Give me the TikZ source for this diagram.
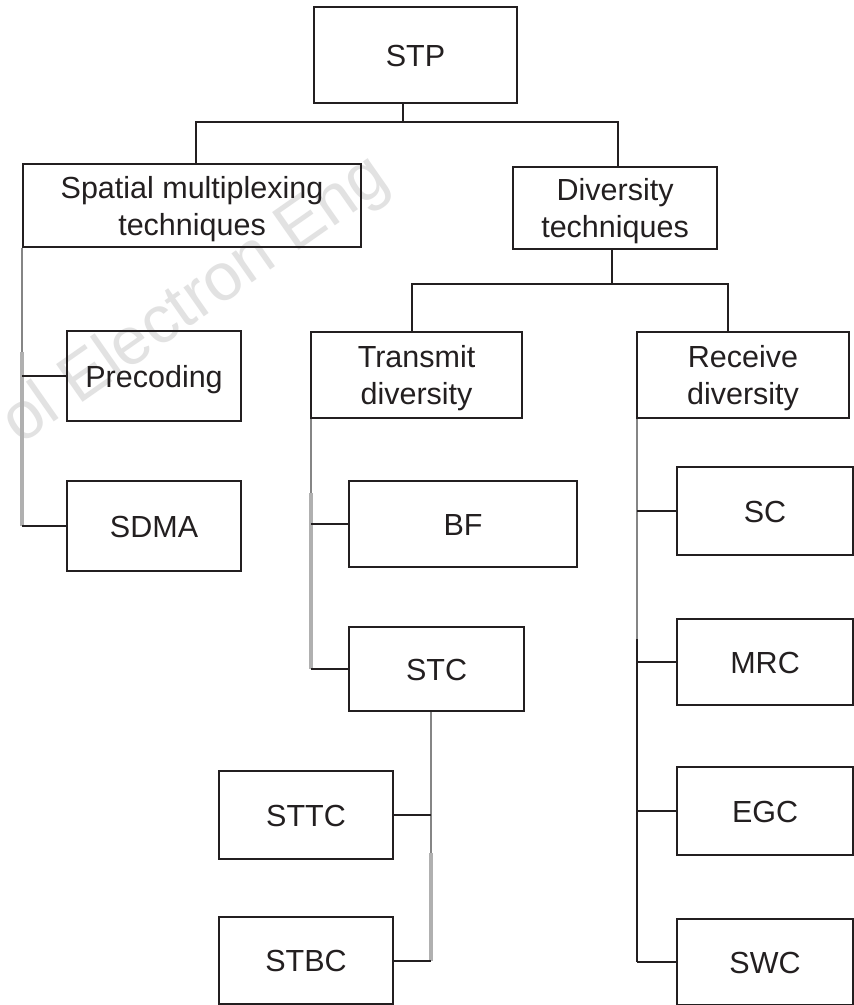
\documentclass[tikz,border=0pt]{standalone}
\usepackage{fontspec}
\setmainfont{Liberation Sans}
\definecolor{ink}{HTML}{231F20}
\definecolor{greyA}{HTML}{858585}
\definecolor{greyB}{HTML}{B0B0B0}
\definecolor{wmark}{HTML}{E2E2E2}
\begin{document}
\begin{tikzpicture}[x=1pt,y=-1pt,
  box/.style={draw=ink, line width=2.1pt, inner sep=0pt, anchor=north west,
    font=\fontsize{30.5}{37}\selectfont, align=center, text depth=0pt, text=ink},
  one/.style={text height=22pt},
  link/.style={draw=ink, line width=2.1pt},
  trunkA/.style={draw=greyA, line width=2.2pt},
  trunkB/.style={draw=greyB, line width=3.2pt}]
\useasboundingbox (0,0) rectangle (854,1005);
\fill[white] (0,0) rectangle (854,1005);
% watermark
\node[anchor=base west, rotate=35, inner sep=0pt, text=wmark,
  font=\fontsize{67}{67}\selectfont] (wm) at (20,446) {ol Electron Eng};
% boxes
\node[box,one,minimum width=203pt,minimum height=96pt] (stp) at (313,6) {STP};
\node[box,minimum width=338pt,minimum height=83pt] (sp) at (22,163) {Spatial multiplexing\\techniques};
\node[box,minimum width=204pt,minimum height=82pt] (dt) at (512,166) {Diversity\\techniques};
\node[box,minimum width=211pt,minimum height=86pt] (td) at (310,331) {Transmit\\diversity};
\node[box,minimum width=212pt,minimum height=86pt] (rd) at (636,331) {Receive\\diversity};
\node[box,one,minimum width=174pt,minimum height=90pt] (pre) at (66,330) {Precoding};
\node[box,one,minimum width=174pt,minimum height=90pt] (sdma) at (66,480) {SDMA};
\node[box,one,minimum width=228pt,minimum height=86pt] (bf) at (348,480) {BF};
\node[box,one,minimum width=175pt,minimum height=84pt] (stc) at (348,626) {STC};
\node[box,one,minimum width=174pt,minimum height=88pt] (sttc) at (218,770) {STTC};
\node[box,one,minimum width=174pt,minimum height=87pt] (stbc) at (218,916) {STBC};
\node[box,one,minimum width=176pt,minimum height=88pt] (sc) at (676,466) {SC};
\node[box,one,minimum width=176pt,minimum height=86pt] (mrc) at (676,618) {MRC};
\node[box,one,minimum width=176pt,minimum height=88pt] (egc) at (676,766) {EGC};
\node[box,one,minimum width=176pt,minimum height=86pt] (swc) at (676,918) {SWC};
% junction coordinates
\coordinate (j0) at (403,122);
\coordinate (b1) at (196,122);
\coordinate (b2) at (618,122);
\coordinate (c0) at (612,284);
\coordinate (c1) at (412,284);
\coordinate (c2) at (728,284);
\coordinate (t1) at (22,352);
\coordinate (t2) at (311,493);
\coordinate (s1) at (431,853);
\coordinate (r1) at (637,639);
% top level
\draw[link, line width=2.8pt] (stp.south -| j0) -- (j0);
\draw[link] (b1 |- sp.north) -- (b1) -- (b2) -- (b2 |- dt.north);
% diversity split
\draw[link] (dt.south -| c0) -- (c0);
\draw[link] (c1 |- td.north) -- (c1) -- (c2) -- (c2 |- rd.north);
% spatial multiplexing trunk
\draw[trunkA] (sp.south west) -- (t1);
\draw[trunkB] (t1) -- (t1 |- sdma.west);
\draw[link] (sp.south west |- pre.west) -- (pre.west);
\draw[link] (sp.south west |- sdma.west) -- (sdma.west);
% transmit trunk
\draw[trunkA] (t2 |- td.south) -- (t2);
\draw[trunkB] (t2) -- (t2 |- stc.west);
\draw[link] (t2 |- bf.west) -- (bf.west);
\draw[link] (t2 |- stc.west) -- (stc.west);
% STC trunk
\draw[trunkA] (s1 |- stc.south) -- (s1);
\draw[trunkB] (s1) -- (s1 |- stbc.east);
\draw[link] (sttc.east) -- (sttc.east -| s1);
\draw[link] (stbc.east) -- (stbc.east -| s1);
% receive trunk
\draw[trunkA] (r1 |- rd.south) -- (r1);
\draw[link] (r1) -- (r1 |- swc.west);
\draw[link] (r1 |- sc.west) -- (sc.west);
\draw[link] (r1 |- mrc.west) -- (mrc.west);
\draw[link] (r1 |- egc.west) -- (egc.west);
\draw[link] (r1 |- swc.west) -- (swc.west);
\end{tikzpicture}
\end{document}
